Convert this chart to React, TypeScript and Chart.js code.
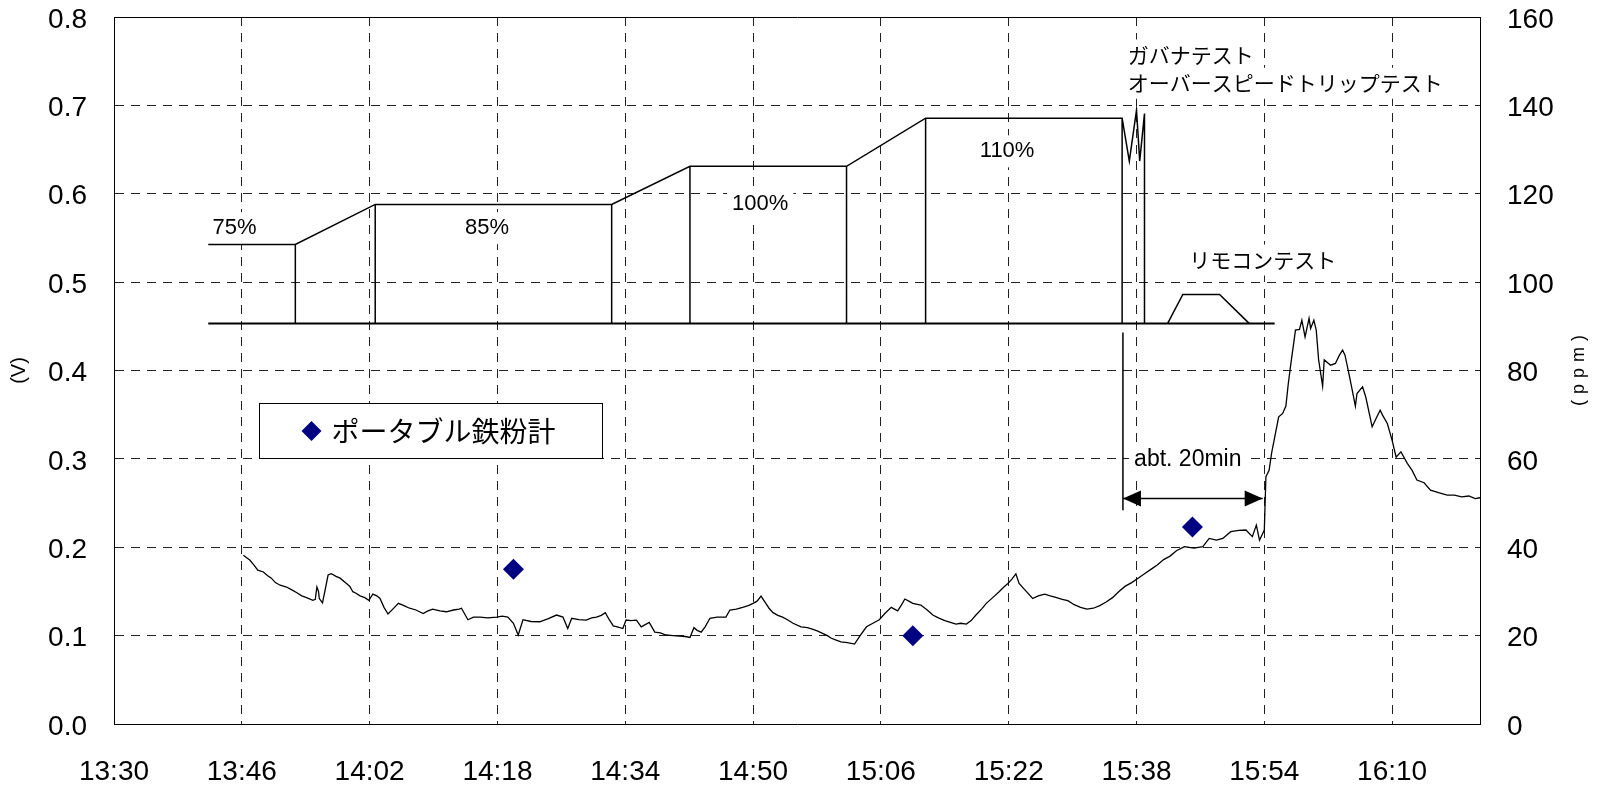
import React, { useEffect, useRef } from 'react';
import { Chart, registerables } from 'chart.js';

Chart.register(...registerables);

// ---------- axes ----------
const xTickMinutes = [0, 16, 32, 48, 64, 80, 96, 112, 128, 144, 160];
const xTickLabels = ['13:30', '13:46', '14:02', '14:18', '14:34', '14:50', '15:06', '15:22', '15:38', '15:54', '16:10'];
const xMaxMinutes = 171;
const voltTicks = [0, 0.1, 0.2, 0.3, 0.4, 0.5, 0.6, 0.7, 0.8];
const ppmTicks = [0, 20, 40, 60, 80, 100, 120, 140, 160];
const leftTitle = '(V)';
const rightTitle = '(ppm)';

// ---------- continuous sensor trace (minutes after 13:30, volts) ----------
const traceMinutes = [
  16.2, 16.6, 17.0, 17.5, 18.0, 18.7, 19.2, 19.7, 20.2, 20.8, 21.6, 22.2, 22.9, 23.5, 24.1, 24.9, 25.2, 25.4, 25.6, 25.7,
  26.1, 26.5, 26.8, 27.2, 27.8, 28.3, 29.1, 29.5, 29.9, 30.3, 30.8, 31.4, 31.9, 32.4, 32.9, 33.3, 33.8, 34.3, 34.9, 35.6,
  36.3, 37.0, 37.8, 38.7, 39.3, 39.9, 40.8, 41.6, 42.5, 43.2, 43.5, 44.3, 45.0, 45.8, 46.8, 47.9, 48.6, 49.3, 50.0, 50.6,
  51.2, 52.2, 53.3, 54.3, 55.4, 56.2, 56.8, 57.3, 58.2, 59.1, 59.8, 60.4, 61.0, 61.5, 62.0, 62.5, 63.0, 63.7, 64.1, 64.7,
  65.4, 66.0, 67.0, 67.7, 68.4, 69.1, 70.0, 70.8, 71.5, 72.1, 72.6, 73.0, 73.5, 74.0, 74.6, 75.5, 76.6, 77.1, 77.9, 78.7,
  79.4, 80.0, 80.5, 81.0, 81.6, 82.0, 82.5, 83.1, 83.7, 84.3, 85.0, 86.0, 86.8, 87.5, 88.1, 88.7, 89.3, 89.8, 90.4, 91.0,
  91.8, 92.7, 93.4, 94.2, 95.0, 95.8, 96.5, 97.3, 97.7, 98.1, 98.6, 99.0, 99.5, 100.0, 101.0, 101.8, 102.5, 103.2, 104.0, 104.7,
  105.4, 106.0, 106.7, 107.3, 107.9, 108.6, 109.2, 110.0, 110.8, 111.4, 111.9, 112.4, 112.9, 113.3, 114.2, 115.0, 115.7, 116.5, 117.2, 117.9,
  118.7, 119.4, 120.2, 121.0, 121.8, 122.6, 123.4, 124.2, 125.0, 125.8, 126.6, 127.4, 128.2, 129.0, 129.8, 130.6, 131.4, 132.2, 133.0, 134.0,
  135.2, 136.3, 137.1, 138.0, 138.8, 139.8, 140.8, 141.7, 142.5, 143.0, 143.4, 144.0, 144.2, 144.6, 144.9, 145.4, 145.8, 146.3, 146.7, 147.0,
  147.3, 147.9, 148.4, 148.7, 149.1, 149.6, 149.8, 150.2, 150.5, 150.8, 151.3, 151.5, 152.3, 152.9, 153.4, 153.8, 154.1, 154.5, 155.0, 155.4,
  155.6, 156.3, 156.7, 157.5, 157.9, 158.5, 158.8, 159.4, 160.0, 160.5, 161.1, 161.9, 162.5, 163.1, 164.0, 164.8, 165.8, 166.9, 167.8, 168.7,
  169.6, 170.4, 171.0,
];
const traceVolts = [
  0.191, 0.188, 0.1855, 0.18, 0.174, 0.172, 0.168, 0.165, 0.16, 0.157, 0.155, 0.152, 0.1485, 0.145, 0.143, 0.14, 0.141, 0.155, 0.15, 0.142,
  0.137, 0.155, 0.1686, 0.17, 0.167, 0.165, 0.159, 0.156, 0.1497, 0.148, 0.145, 0.143, 0.14, 0.147, 0.145, 0.142, 0.132, 0.1244, 0.13, 0.1365,
  0.134, 0.131, 0.129, 0.125, 0.128, 0.13, 0.128, 0.127, 0.129, 0.13, 0.131, 0.118, 0.121, 0.121, 0.12, 0.121, 0.122, 0.121, 0.114, 0.1007,
  0.118, 0.116, 0.1157, 0.119, 0.1233, 0.121, 0.108, 0.1196, 0.118, 0.1176, 0.12, 0.121, 0.123, 0.126, 0.118, 0.111, 0.11, 0.108, 0.1176, 0.117,
  0.1176, 0.11, 0.115, 0.104, 0.103, 0.1007, 0.1, 0.0995, 0.099, 0.098, 0.109, 0.106, 0.104, 0.11, 0.1196, 0.121, 0.121, 0.129, 0.13, 0.132,
  0.134, 0.1365, 0.139, 0.1448, 0.1365, 0.131, 0.126, 0.123, 0.121, 0.118, 0.114, 0.11, 0.109, 0.107, 0.105, 0.1026, 0.1, 0.097, 0.095, 0.093,
  0.092, 0.0905, 0.1, 0.11, 0.114, 0.118, 0.125, 0.132, 0.13, 0.128, 0.135, 0.1414, 0.139, 0.1365, 0.1346, 0.129, 0.1233, 0.12, 0.117, 0.115,
  0.113, 0.114, 0.113, 0.117, 0.1233, 0.13, 0.1365, 0.143, 0.1497, 0.155, 0.159, 0.164, 0.17, 0.159, 0.15, 0.142, 0.145, 0.147, 0.145, 0.1433,
  0.141, 0.1395, 0.135, 0.132, 0.13, 0.131, 0.134, 0.138, 0.143, 0.15, 0.156, 0.16, 0.165, 0.17, 0.175, 0.18, 0.186, 0.19, 0.196, 0.2006,
  0.199, 0.2006, 0.21, 0.208, 0.21, 0.2176, 0.219, 0.2195, 0.212, 0.225, 0.208, 0.2195, 0.2798, 0.287, 0.306, 0.329, 0.3476, 0.3514, 0.3597, 0.385,
  0.406, 0.4457, 0.4465, 0.457, 0.438, 0.459, 0.4476, 0.457, 0.4457, 0.412, 0.3824, 0.412, 0.406, 0.408, 0.4174, 0.423, 0.4174, 0.4005, 0.378, 0.3597,
  0.374, 0.3816, 0.37, 0.3363, 0.3439, 0.355, 0.3495, 0.34, 0.321, 0.302, 0.308, 0.295, 0.287, 0.276, 0.273, 0.2647, 0.2617, 0.259, 0.259, 0.257,
  0.258, 0.255, 0.256,
];

// ---------- portable iron-powder meter readings ----------
const meterLabel = 'ポータブル鉄粉計';
const meterMinutes = [50, 100, 135];
const meterVolts = [0.175, 0.1, 0.223];

// ---------- load profile sketch (null = break) ----------
const profileMinutes = [
  11.8, 22.7, 32.7, 62.3, 72.1, 91.7, 101.6, 126.2, 127.1, 128.0, 128.4, 129.0, 129.0, null,
  22.7, 22.7, null, 32.7, 32.7, null, 62.3, 62.3, null, 72.1, 72.1, null,
  91.7, 91.7, null, 101.6, 101.6, null, 126.2, 126.2, null,
  131.9, 133.8, 138.4, 142.1,
];
const profileVolts = [
  0.5426, 0.5426, 0.5879, 0.5879, 0.631, 0.631, 0.6855, 0.6855, 0.637, 0.6946, 0.637, 0.6908, 0.4533, null,
  0.5426, 0.4533, null, 0.5879, 0.4533, null, 0.5879, 0.4533, null, 0.631, 0.4533, null,
  0.631, 0.4533, null, 0.6855, 0.4533, null, 0.6855, 0.4533, null,
  0.4533, 0.486, 0.486, 0.4533,
];
const baselineMinutes = [11.8, 145.3];
const baselineVolts = [0.4533, 0.4533];

// ---------- "abt. 20min" delay marker ----------
const arrowMinutes = [126.3, 126.3, null, 126.3, 143.8];
const arrowVolts = [0.443, 0.242, null, 0.2553, 0.2553];

// ---------- text notes ----------
const loadLabels = ['75%', '85%', '100%', '110%'];
const loadLabelMinutes = [15.1, 46.7, 80.9, 111.8];
const loadLabelVolts = [0.561, 0.561, 0.588, 0.648];
const noteTexts = ['ガバナテスト', 'オーバースピードトリップテスト', 'リモコンテスト', 'abt. 20min'];
const noteMinutes = [126.9, 126.9, 134.6, 127.7];
const noteVolts = [0.757, 0.725, 0.525, 0.2986];
const legendBoxMinutes = [18.2, 61.1];
const legendBoxVolts = [0.3628, 0.3009];

const LATIN = '"Liberation Sans", Arial, sans-serif';
const CJK = '"Noto Sans CJK JP", "Noto Sans", sans-serif';

const toPoints = (xs: (number | null)[], ys: (number | null)[]) =>
  xs.map((x, i) => ({ x: x as any, y: ys[i] as any }));

const overlayPlugin = {
  id: 'overlay',
  beforeDatasetsDraw(chart: any) {
    const { ctx } = chart;
    const xs = chart.scales.x;
    const ys = chart.scales.y;
    ctx.save();
    const label = (text: string, m: number, v: number, font: string, size: number, align: 'left' | 'center') => {
      ctx.font = `${size}px ${font}`;
      const w = ctx.measureText(text).width;
      const px = xs.getPixelForValue(m);
      const py = ys.getPixelForValue(v);
      const left = align === 'center' ? px - w / 2 : px;
      ctx.fillStyle = '#ffffff';
      ctx.fillRect(left - 5, py - size / 2 - 5, w + 10, size + 10);
      ctx.fillStyle = '#000000';
      ctx.textAlign = align;
      ctx.textBaseline = 'middle';
      ctx.fillText(text, px, py);
    };
    loadLabels.forEach((t, i) => label(t, loadLabelMinutes[i], loadLabelVolts[i], LATIN, 22, 'center'));
    noteTexts.forEach((t, i) => {
      const isLatin = /^[\x00-\x7f]+$/.test(t);
      label(t, noteMinutes[i], noteVolts[i], isLatin ? LATIN : CJK, isLatin ? 23 : 21, 'left');
    });
    ctx.restore();
  },
  afterDatasetsDraw(chart: any) {
    const { ctx, chartArea } = chart;
    const xs = chart.scales.x;
    const ys = chart.scales.y;
    ctx.save();
    // top frame line
    ctx.strokeStyle = '#000';
    ctx.lineWidth = 1;
    ctx.beginPath();
    ctx.moveTo(chartArea.left, Math.round(chartArea.top) + 0.5);
    ctx.lineTo(chartArea.right + 1, Math.round(chartArea.top) + 0.5);
    ctx.stroke();

    // arrow heads
    const ay = ys.getPixelForValue(arrowVolts[3] as number);
    const ax1 = xs.getPixelForValue(arrowMinutes[3] as number);
    const ax2 = xs.getPixelForValue(arrowMinutes[4] as number);
    ctx.fillStyle = '#000';
    ctx.beginPath();
    ctx.moveTo(ax1, ay);
    ctx.lineTo(ax1 + 18, ay - 8);
    ctx.lineTo(ax1 + 18, ay + 8);
    ctx.closePath();
    ctx.fill();
    ctx.beginPath();
    ctx.moveTo(ax2, ay);
    ctx.lineTo(ax2 - 18, ay - 8);
    ctx.lineTo(ax2 - 18, ay + 8);
    ctx.closePath();
    ctx.fill();

    // legend box
    const lx1 = Math.round(xs.getPixelForValue(legendBoxMinutes[0])) + 0.5;
    const lx2 = Math.round(xs.getPixelForValue(legendBoxMinutes[1])) + 0.5;
    const ly1 = Math.round(ys.getPixelForValue(legendBoxVolts[0])) + 0.5;
    const ly2 = Math.round(ys.getPixelForValue(legendBoxVolts[1])) + 0.5;
    ctx.fillStyle = '#fff';
    ctx.fillRect(lx1, ly1, lx2 - lx1, ly2 - ly1);
    ctx.strokeStyle = '#000';
    ctx.strokeRect(lx1, ly1, lx2 - lx1, ly2 - ly1);
    const cy = (ly1 + ly2) / 2;
    const dx = lx1 + 52;
    ctx.fillStyle = '#000080';
    ctx.beginPath();
    ctx.moveTo(dx, cy - 10);
    ctx.lineTo(dx + 10, cy);
    ctx.lineTo(dx, cy + 10);
    ctx.lineTo(dx - 10, cy);
    ctx.closePath();
    ctx.fill();
    ctx.fillStyle = '#000';
    ctx.font = `28px ${CJK}`;
    ctx.textAlign = 'left';
    ctx.textBaseline = 'middle';
    ctx.fillText(meterLabel, dx + 20, cy);

    // axis titles
    const mid = (chartArea.top + chartArea.bottom) / 2;
    ctx.font = `20px ${LATIN}`;
    ctx.textAlign = 'center';
    ctx.save();
    ctx.translate(19, mid);
    ctx.rotate(-Math.PI / 2);
    ctx.fillText(leftTitle, 0, 0);
    ctx.restore();
    ctx.save();
    ctx.translate(1579, mid);
    ctx.rotate(-Math.PI / 2);
    ctx.font = `18px ${LATIN}`;
    try { (ctx as any).letterSpacing = '6px'; } catch (e) { /* ignore */ }
    ctx.fillText(rightTitle, 3, 0);
    ctx.restore();
    ctx.restore();
  },
};

const gridStyle = {
  color: '#222',
  lineWidth: 1,
  drawTicks: false,
};

const noVPad = (s: any) => { s.paddingTop = 0; s.paddingBottom = 0; };

export default function App() {
  const ref = useRef<HTMLCanvasElement | null>(null);
  useEffect(() => {
    document.body.style.margin = '0';
    const canvas = ref.current;
    if (!canvas) return;
    const chart = new Chart(canvas, {
      type: 'line',
      data: {
        datasets: [
          {
            label: 'trace',
            data: toPoints(traceMinutes, traceVolts),
            borderColor: '#000',
            borderWidth: 1.3,
            pointRadius: 0,
            tension: 0,
            yAxisID: 'y',
          },
          {
            label: 'profile',
            data: toPoints(profileMinutes, profileVolts),
            borderColor: '#000',
            borderWidth: 1.5,
            pointRadius: 0,
            tension: 0,
            spanGaps: false,
            yAxisID: 'y',
          },
          {
            label: 'baseline',
            data: toPoints(baselineMinutes, baselineVolts),
            borderColor: '#000',
            borderWidth: 2,
            pointRadius: 0,
            yAxisID: 'y',
          },
          {
            label: 'arrow',
            data: toPoints(arrowMinutes, arrowVolts),
            borderColor: '#000',
            borderWidth: 1.5,
            pointRadius: 0,
            spanGaps: false,
            yAxisID: 'y',
          },
          {
            label: meterLabel,
            data: toPoints(meterMinutes, meterVolts),
            showLine: false,
            pointStyle: 'rectRot',
            pointRadius: 10.5,
            pointBackgroundColor: '#000080',
            pointBorderColor: '#000080',
            pointBorderWidth: 0,
            yAxisID: 'y',
          },
        ] as any,
      },
      options: {
        animation: false,
        responsive: false,
        events: [],
        layout: { padding: { top: 17, left: 0, right: 0, bottom: 0 } },
        plugins: { legend: { display: false }, tooltip: { enabled: false }, title: { display: false } },
        scales: {
          x: {
            type: 'linear',
            min: 0,
            max: xMaxMinutes,
            afterFit: (s: any) => { s.height = 62; s.paddingLeft = 0; s.paddingRight = 0; },
            afterBuildTicks: (s: any) => { s.ticks = xTickMinutes.map((v) => ({ value: v })); },
            grid: { ...gridStyle },
            border: { display: true, color: '#000', width: 1, dash: [9, 7] },
            ticks: {
              padding: 31,
              maxRotation: 0,
              autoSkip: false,
              color: '#000',
              font: { family: LATIN, size: 28 },
              callback: (v: any) => xTickLabels[xTickMinutes.indexOf(Number(v))] ?? '',
            },
          },
          y: {
            type: 'linear',
            position: 'left',
            min: 0,
            max: 0.8,
            afterFit: (s: any) => { s.width = 114; noVPad(s); },
            afterBuildTicks: (s: any) => { s.ticks = voltTicks.map((v) => ({ value: v })); },
            grid: { ...gridStyle },
            border: { display: true, color: '#000', width: 1, dash: [9, 7] },
            ticks: {
              padding: 27,
              labelOffset: 3,
              color: '#000',
              font: { family: LATIN, size: 28 },
              callback: (v: any) => Number(v).toFixed(1),
            },
          },
          y1: {
            type: 'linear',
            position: 'right',
            min: 0,
            max: 160,
            afterFit: (s: any) => { s.width = 125; noVPad(s); },
            afterBuildTicks: (s: any) => { s.ticks = ppmTicks.map((v) => ({ value: v })); },
            grid: { display: false, drawTicks: false },
            border: { display: true, color: '#000', width: 1 },
            ticks: {
              padding: 27,
              labelOffset: 3,
              color: '#000',
              font: { family: LATIN, size: 28 },
              callback: (v: any) => String(v),
            },
          },
        },
      } as any,
      plugins: [overlayPlugin],
    });
    return () => chart.destroy();
  }, []);
  return (
    <div style={{ width: 1605, height: 786, background: '#fff' }}>
      <canvas ref={ref} width={1605} height={786} style={{ display: 'block' }} />
    </div>
  );
}
